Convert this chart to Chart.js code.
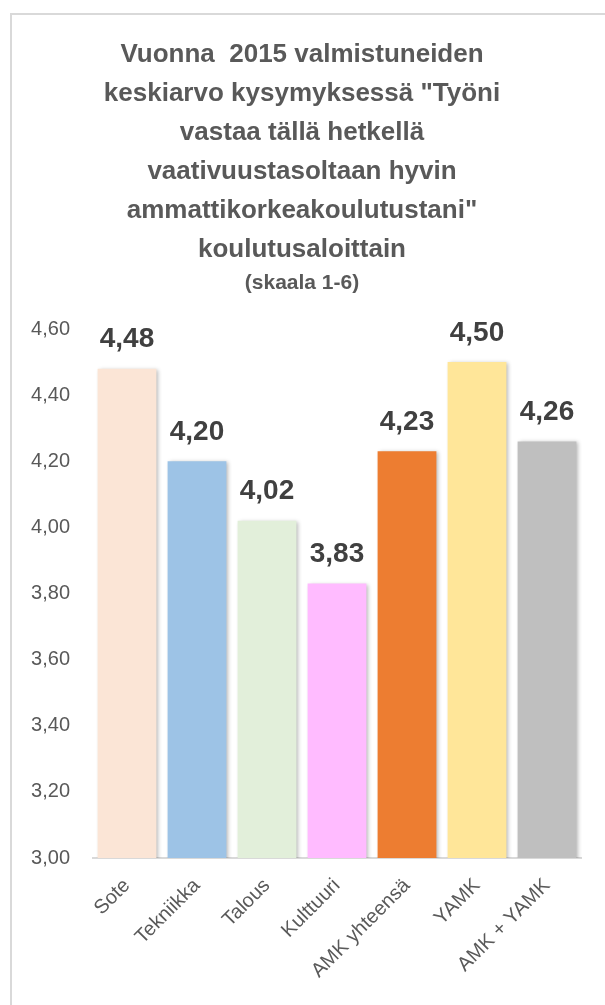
<!DOCTYPE html>
<html>
<head>
<meta charset="utf-8">
<script src="https://cdn.jsdelivr.net/npm/chart.js@4/dist/chart.umd.min.js"></script>
<style>
  html, body { margin: 0; padding: 0; background: #fff; overflow: hidden; }
  #frame {
    position: absolute; left: 10px; top: 13px; width: 640px; height: 1040px;
    border-left: 2px solid #D9D9D9; border-top: 2px solid #D9D9D9;
  }
  #wrap { position: absolute; left: 12px; top: 15px; width: 593px; height: 990px; }
</style>
</head>
<body>
<div id="frame"></div>
<div id="wrap"><canvas id="chart"></canvas></div>
<script>
// data
const categories = ["Sote", "Tekniikka", "Talous", "Kulttuuri", "AMK yhteensä", "YAMK", "AMK + YAMK"];
const values = [4.48, 4.20, 4.02, 3.83, 4.23, 4.50, 4.26];
const barColors = ["#FBE5D6", "#9DC3E6", "#E2EFDA", "#FFBBFF", "#ED7D31", "#FFE699", "#BFBFBF"];
const titleLines = [
  "Vuonna  2015 valmistuneiden",
  "keskiarvo kysymyksessä \"Työni",
  "vastaa tällä hetkellä",
  "vaativuustasoltaan hyvin",
  "ammattikorkeakoulutustani\"",
  "koulutusaloittain"
];
const subtitleText = "(skaala 1-6)";

const fmt = (v) => v.toFixed(2).replace(".", ",");

// soft shadow behind bars, like the Excel original
const barShadow = {
  id: "barShadow",
  beforeDatasetsDraw(chart) {
    const ctx = chart.ctx;
    ctx.save();
    ctx.shadowColor = "rgba(0,0,0,0.28)";
    ctx.shadowBlur = 4;
    ctx.shadowOffsetX = 2;
    ctx.shadowOffsetY = 1;
  },
  afterDatasetsDraw(chart) {
    chart.ctx.restore();
  }
};

// value labels above bars
const valueLabels = {
  id: "valueLabels",
  afterDraw(chart) {
    const ctx = chart.ctx;
    const meta = chart.getDatasetMeta(0);
    ctx.save();
    ctx.font = "bold 28px 'Liberation Sans', Arial, sans-serif";
    ctx.fillStyle = "#404040";
    ctx.textAlign = "center";
    ctx.textBaseline = "middle";
    meta.data.forEach((bar, i) => {
      ctx.fillText(fmt(values[i]), bar.x, bar.y - 29);
    });
    ctx.restore();
  }
};

const ctx = document.getElementById("chart");

new Chart(ctx, {
  type: "bar",
  data: {
    labels: categories,
    datasets: [
      {
        data: values,
        backgroundColor: barColors,
        borderWidth: 0,
        categoryPercentage: 1,
        barPercentage: 0.84,
      },
    ],
  },
  options: {
    responsive: true,
    maintainAspectRatio: false,
    animation: false,
    layout: { padding: { left: 10, right: 23, top: 0, bottom: 0 } },
    plugins: {
      legend: { display: false },
      tooltip: { enabled: false },
      title: {
        display: true,
        text: titleLines,
        color: "#595959",
        font: { family: "'Liberation Sans', Arial, sans-serif", size: 26, weight: "bold", lineHeight: "39px" },
        padding: { top: 20, bottom: 0 },
      },
      subtitle: {
        display: true,
        text: subtitleText,
        color: "#595959",
        font: { family: "'Liberation Sans', Arial, sans-serif", size: 21, weight: "bold", lineHeight: "26px" },
        padding: { top: 1, bottom: 33 },
      },
    },
    scales: {
      y: {
        min: 3,
        max: 4.6,
        ticks: {
          stepSize: 0.2,
          color: "#595959",
          padding: 22,
          font: { family: "'Liberation Sans', Arial, sans-serif", size: 20 },
          callback: (v) => fmt(v),
        },
        grid: {
          drawTicks: false,
          lineWidth: 2,
          color: (c) => (c.tick && Math.abs(c.tick.value - 3) < 1e-6 ? "#D9D9D9" : "transparent"),
        },
        border: { display: false },
        afterFit: (scale) => { scale.width = 70; },
      },
      x: {
        grid: { display: false },
        border: { display: false },
        ticks: {
          color: "#595959",
          minRotation: 45,
          maxRotation: 45,
          padding: 8,
          font: { family: "'Liberation Sans', Arial, sans-serif", size: 20 },
        },
        afterFit: (scale) => { scale.height = 147; },
      },
    },
  },
  plugins: [barShadow, valueLabels],
});
</script>
</body>
</html>
